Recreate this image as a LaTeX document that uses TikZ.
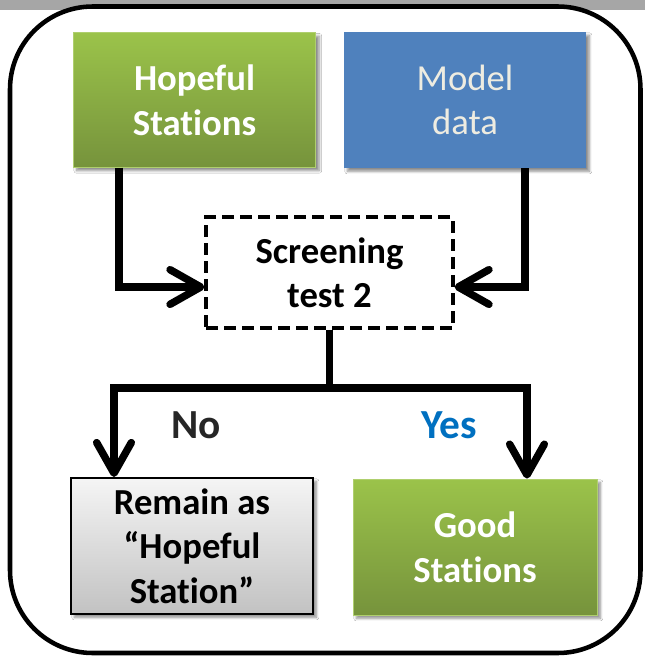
\documentclass[tikz,border=0pt]{standalone}
\usepackage{fontspec}
\setmainfont{Carlito}[Ligatures=NoCommon]
\usetikzlibrary{arrows.meta,shadows.blur}
\definecolor{gtop}{HTML}{9BC34A}
\definecolor{gbot}{HTML}{76933C}
\definecolor{mblue}{HTML}{4F81BD}
\definecolor{mtext}{HTML}{EEECE1}
\definecolor{band}{HTML}{A6A6A6}
\definecolor{nocol}{HTML}{262626}
\definecolor{yescol}{HTML}{0070C0}
\tikzset{
  box/.style={rectangle, inner sep=0pt, align=center,
    font=\fontsize{27.5}{33.5}\selectfont\bfseries,
    blur shadow={shadow xshift=2.5pt, shadow yshift=-2.5pt, shadow blur steps=6, shadow opacity=45}},
  greenbox/.style={box, top color=gtop, bottom color=gbot, text=white, draw=gtop!80!white, line width=0.6pt},
  bluebox/.style={box, fill=mblue, text=mtext, font=\fontsize{27.5}{33.5}\selectfont},
  graybox/.style={box, top color=black!4, bottom color=black!24, draw=black, line width=1.5pt, text=black},
  testbox/.style={rectangle, inner sep=0pt, align=center, draw=black, fill=white,
    line width=2.6pt, dash pattern=on 9pt off 4.5pt,
    font=\fontsize{27.5}{33}\selectfont\bfseries},
  conn/.style={line width=5.6pt},
  arr/.style={conn, -{Straight Barb[length=23pt,width=26pt,round]}},
  lab/.style={font=\fontsize{31}{33}\selectfont\bfseries, inner sep=0pt}
}
\begin{document}
\begin{tikzpicture}[x=0.75pt,y=-0.75pt]
\useasboundingbox (0,0) rectangle (645,660);
\fill[band] (0,0) rectangle (645,10);
\draw[line width=3.4pt, fill=white, rounded corners=62pt] (10,6.5) rectangle (640.5,653);

\node[greenbox, minimum width=182pt, minimum height=101pt] (hop) at (194.5,100) {Hopeful\\Stations};
\node[bluebox, minimum width=181.5pt, minimum height=102pt] (mod) at (465,100) {Model\\data};
\node[testbox, minimum width=185pt, minimum height=83pt] (scr) at (329.5,272.5) {Screening\\test 2};
\node[graybox, minimum width=181.5pt, minimum height=102pt] (rem) at (192,546) {Remain as\\“Hopeful\\Station”};
\node[greenbox, minimum width=183pt, minimum height=102pt] (good) at (475,547) {Good\\Stations};

\coordinate (hx) at (119,0);
\coordinate (mx) at (525,0);
\coordinate (ay) at (0,287);
\coordinate (bl) at (114,388);
\coordinate (br) at (527,388);

\draw[arr] (hop.south -| hx) |- (scr.west |- ay);
\draw[arr] (mod.south -| mx) |- (scr.east |- ay);
\draw[arr] (scr.south) |- (bl) -- (rem.north -| bl);
\draw[arr] (scr.south) |- (br) -- (good.north -| br);

\node[lab, text=nocol] (no) at (196,425) {No};
\node[lab, text=yescol] (yes) at (449.5,425) {Yes};
\end{tikzpicture}
\end{document}
